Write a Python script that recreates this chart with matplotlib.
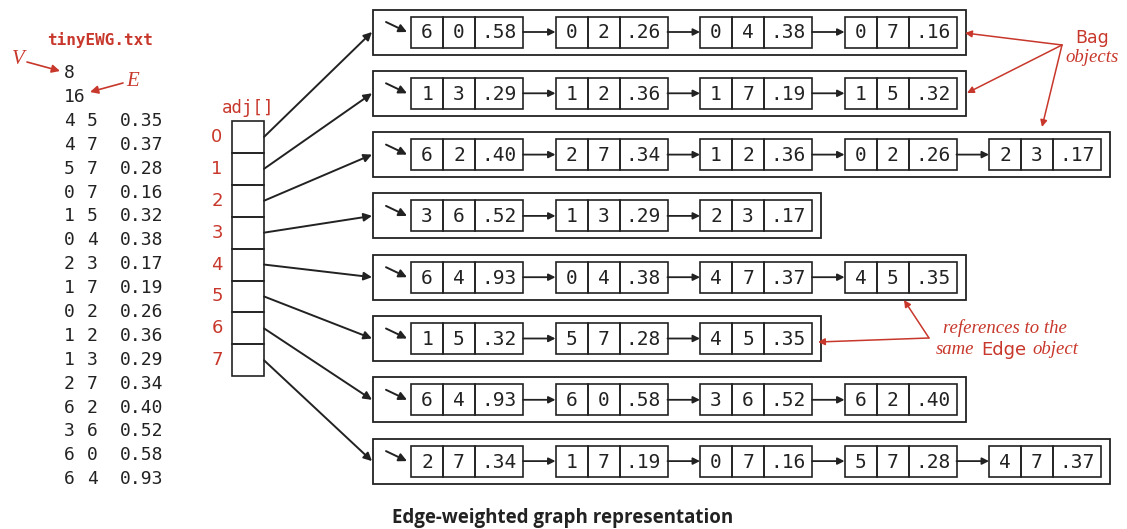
import matplotlib
matplotlib.use("Agg")
import matplotlib.pyplot as plt
from matplotlib.patches import Rectangle

# data: tinyEWG.txt
n_vertices = 8
n_edges = 16
edges = [
    (4, 5, "0.35"), (4, 7, "0.37"), (5, 7, "0.28"), (0, 7, "0.16"),
    (1, 5, "0.32"), (0, 4, "0.38"), (2, 3, "0.17"), (1, 7, "0.19"),
    (0, 2, "0.26"), (1, 2, "0.36"), (1, 3, "0.29"), (2, 7, "0.34"),
    (6, 2, "0.40"), (3, 6, "0.52"), (6, 0, "0.58"), (6, 4, "0.93"),
]

# adjacency lists (Bag objects), one list per vertex
adj = [
    [(6, 0, ".58"), (0, 2, ".26"), (0, 4, ".38"), (0, 7, ".16")],
    [(1, 3, ".29"), (1, 2, ".36"), (1, 7, ".19"), (1, 5, ".32")],
    [(6, 2, ".40"), (2, 7, ".34"), (1, 2, ".36"), (0, 2, ".26"), (2, 3, ".17")],
    [(3, 6, ".52"), (1, 3, ".29"), (2, 3, ".17")],
    [(6, 4, ".93"), (0, 4, ".38"), (4, 7, ".37"), (4, 5, ".35")],
    [(1, 5, ".32"), (5, 7, ".28"), (4, 5, ".35")],
    [(6, 4, ".93"), (6, 0, ".58"), (3, 6, ".52"), (6, 2, ".40")],
    [(2, 7, ".34"), (1, 7, ".19"), (0, 7, ".16"), (5, 7, ".28"), (4, 7, ".37")],
]

RED = "#c8372b"
INK = "#222222"
MONO = "DejaVu Sans Mono"
SERIF = "Liberation Serif"

fig = plt.figure(figsize=(11.27, 5.29), dpi=100)
ax = fig.add_axes([0, 0, 1, 1])
ax.set_xlim(0, 1127)
ax.set_ylim(529, 0)
ax.axis("off")


def arrow(x0, y0, x1, y1, color=INK, lw=1.3, ms=11):
    ax.annotate("", xy=(x1, y1), xytext=(x0, y0),
                arrowprops=dict(arrowstyle="-|>", color=color, lw=lw,
                                mutation_scale=ms, shrinkA=0, shrinkB=0))


# --- left: the input file ---
ax.text(100, 40, "tinyEWG.txt", color=RED, family=MONO, weight="bold",
        fontsize=11.5, ha="center", va="center")
line_y0, line_dy = 73, 23.9
ax.text(64, line_y0, str(n_vertices), family=MONO, fontsize=13, color=INK, va="center")
ax.text(64, line_y0 + line_dy, str(n_edges), family=MONO, fontsize=13, color=INK, va="center")
for i, (v, w, wt) in enumerate(edges):
    y = line_y0 + (i + 2) * line_dy
    ax.text(64, y, str(v), family=MONO, fontsize=13, color=INK, va="center")
    ax.text(87, y, str(w), family=MONO, fontsize=13, color=INK, va="center")
    ax.text(120, y, wt, family=MONO, fontsize=13, color=INK, va="center")

ax.text(18, 59, "V", family=SERIF, style="italic", fontsize=15, color=RED,
        ha="center", va="center")
arrow(27, 62, 60, 71, color=RED, lw=1.2, ms=12)
ax.text(133, 81, "E", family=SERIF, style="italic", fontsize=15, color=RED,
        ha="center", va="center")
arrow(123, 83, 90, 92, color=RED, lw=1.2, ms=12)

# --- adj[] array ---
arr_x, arr_w, arr_top, cell_h = 232, 32, 121, 31.9
ax.text(248, 108, "adj[]", color=RED, family=MONO, fontsize=12.5,
        ha="center", va="center")
for i in range(n_vertices):
    y = arr_top + i * cell_h
    ax.add_patch(Rectangle((arr_x, y), arr_w, cell_h, fill=False,
                           ec=INK, lw=1.2))
    ax.text(217, y + cell_h / 2, str(i), color=RED, family="DejaVu Sans",
            fontsize=13, ha="center", va="center")

# --- bags ---
row_y0, row_dy = 32, 61.3
box_x, box_h = 373, 45
node_x0, node_dx, node_h = 411, 144.5, 31
cell_w = [32, 32, 48]
node_w = sum(cell_w)

for i, bag in enumerate(adj):
    yc = row_y0 + i * row_dy
    right = node_x0 + (len(bag) - 1) * node_dx + node_w + 9
    ax.add_patch(Rectangle((box_x, yc - box_h / 2), right - box_x, box_h,
                           fill=False, ec=INK, lw=1.3))
    # pointer from adj[i] to the bag
    arrow(arr_x + arr_w, arr_top + (i + 0.5) * cell_h, box_x - 1, yc, lw=1.4, ms=12)
    # first-node pointer inside the bag
    arrow(386, yc - 10, 407, yc, lw=1.4, ms=12)
    for j, (v, w, wt) in enumerate(bag):
        x = node_x0 + j * node_dx
        cx = x
        for k, txt in enumerate((str(v), str(w), wt)):
            ax.add_patch(Rectangle((cx, yc - node_h / 2), cell_w[k], node_h,
                                   fill=False, ec=INK, lw=1.2))
            ax.text(cx + cell_w[k] / 2, yc + 1, txt, family=MONO, fontsize=14,
                    color=INK, ha="center", va="center")
            cx += cell_w[k]
        if j < len(bag) - 1:
            arrow(x + node_w, yc, x + node_dx, yc, lw=1.3, ms=10)

# --- annotations ---
ax.text(1092, 38, "Bag", color=RED, family="DejaVu Sans", fontsize=12.5,
        ha="center", va="center")
ax.text(1092, 57, "objects", color=RED, family=SERIF, style="italic",
        fontsize=13.5, ha="center", va="center")
for hx, hy in [(965, 33), (967, 93), (1042, 127)]:
    arrow(1062, 45, hx, hy, color=RED, lw=1.1, ms=10)

ax.text(1005, 328, "references to the", color=RED, family=SERIF, style="italic",
        fontsize=13.5, ha="center", va="center")
ax.text(936, 350, "same", color=RED, family=SERIF, style="italic",
        fontsize=13.5, ha="left", va="center")
ax.text(981, 350, "Edge", color=RED, family="DejaVu Sans",
        fontsize=13, ha="left", va="center")
ax.text(1032, 350, "object", color=RED, family=SERIF, style="italic",
        fontsize=13.5, ha="left", va="center")
arrow(929, 338, 904, 300, color=RED, lw=1.1, ms=10)
arrow(929, 338, 818, 342, color=RED, lw=1.1, ms=10)

ax.text(563, 518, "Edge-weighted graph representation", family="Open Sans",
        weight="bold", fontsize=13.5, color=INK, ha="center", va="center")

fig.savefig("out.png", dpi=100)
